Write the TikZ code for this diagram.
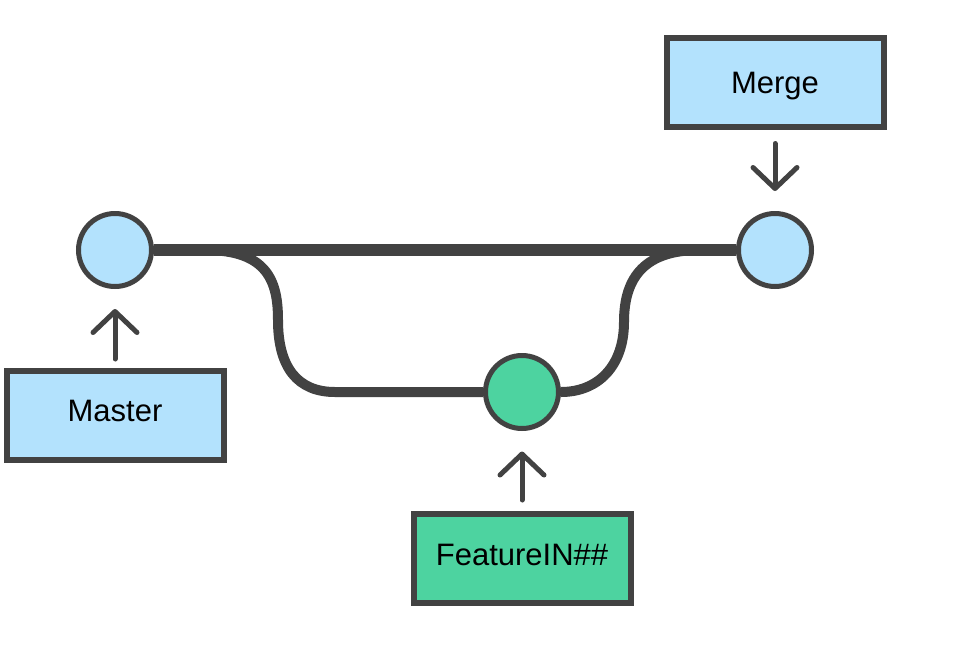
\documentclass[tikz,border=0pt]{standalone}
\usepackage{fontspec}
\setmainfont{Liberation Sans}
\usetikzlibrary{arrows.meta}
\definecolor{ink}{HTML}{424242}
\definecolor{skyfill}{HTML}{B3E2FD}
\definecolor{featfill}{HTML}{4DD3A0}
\begin{document}
\begin{tikzpicture}[x=1pt,y=-1pt,
  commit/.style={circle,draw=ink,line width=5pt,minimum size=73pt,inner sep=0pt},
  tag/.style={rectangle,draw=ink,line width=6pt,minimum width=217pt,minimum height=89pt,
    inner sep=0pt,font=\fontsize{31}{37}\selectfont,text height=22pt,text depth=0pt},
  trunk/.style={draw=ink,line width=12pt},
  branch/.style={draw=ink,line width=10pt},
  pointer/.style={draw=ink,line width=5pt,line cap=round,
    -{Straight Barb[length=21pt,width=44pt,round]}}
]
\useasboundingbox (0,0) rectangle (972,646);

% commits
\node[commit,fill=skyfill] (lc) at (115,250) {};
\node[commit,fill=skyfill] (rc) at (775,250) {};
\node[commit,fill=featfill] (fc) at (522,392) {};

% labels
\node[tag,fill=skyfill,text depth=10pt] (master) at (115,415.5) {Master};
\node[tag,fill=skyfill] (merge) at (775,82) {Merge};
\node[tag,fill=featfill,text depth=8pt] (feature) at (522,558.5) {FeatureIN\#\#};

% branch attachment points on the trunk
\coordinate (fork) at (205,250);
\coordinate (join) at (700,250);

% feature branch
\draw[branch] (fork) .. controls (268,250) and (278,282) .. (278,320)
  .. controls (278,368) and (298,392) .. (335,392) -- (fc.west);
\draw[branch] (fc.east) .. controls (598,392) and (624,366) .. (624,322)
  .. controls (624,276) and (646,250) .. (join);

% main line
\draw[trunk] (lc.east) -- (rc.west);

% pointers
\draw[pointer,shorten <=9pt,shorten >=20pt] (master) -- (lc);
\draw[pointer,shorten <=11pt,shorten >=20.5pt] (feature) -- (fc);
\draw[pointer,shorten <=14pt,shorten >=20pt] (merge) -- (rc);
\end{tikzpicture}
\end{document}
